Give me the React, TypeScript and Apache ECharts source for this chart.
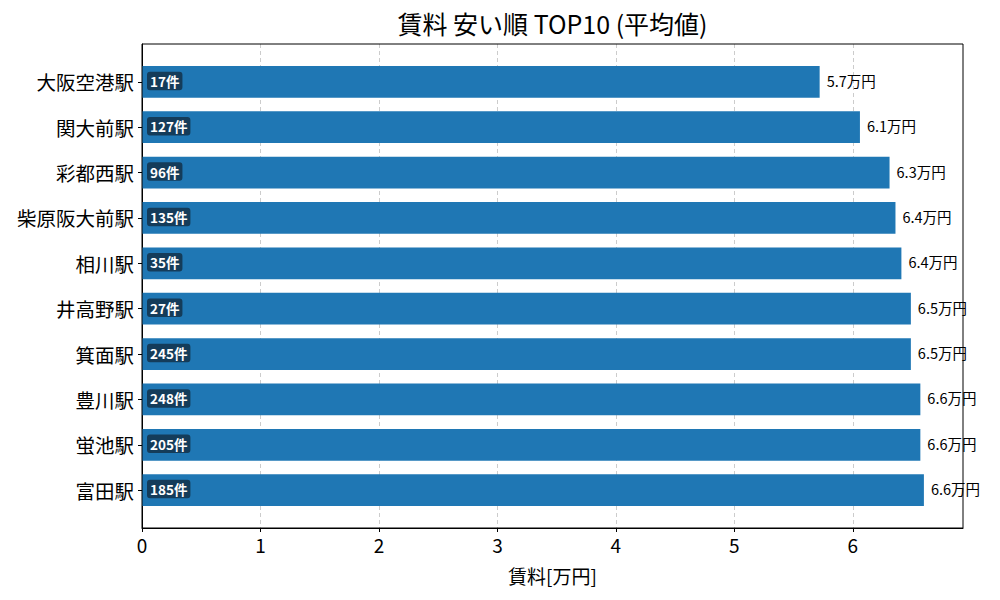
import React, { useEffect, useRef } from "react";
import * as echarts from "echarts";

const stations = ["大阪空港駅", "関大前駅", "彩都西駅", "柴原阪大前駅", "相川駅", "井高野駅", "箕面駅", "豊川駅", "蛍池駅", "富田駅"];
const rents = [5.72, 6.06, 6.31, 6.36, 6.41, 6.49, 6.49, 6.57, 6.57, 6.6];
const counts = [17, 127, 96, 135, 35, 27, 245, 248, 205, 185];
const xTicks = [0, 1, 2, 3, 4, 5, 6];
const yTicks = stations.map((_, i) => i);

const FONT = '"Noto Sans CJK JP", "Noto Sans", sans-serif';

export default function App() {
  const ref = useRef<HTMLDivElement>(null);
  useEffect(() => {
    if (!ref.current) return;
    document.body.style.margin = "0";
    const chart = echarts.init(ref.current, null, { renderer: "svg" });
    const GL = 142, GT = 44, GR = 37, GB = 72;
    const xMax = Math.max(...rents) * 1.05;
    chart.setOption({
      animation: false,
      textStyle: { fontFamily: FONT },
      grid: { left: GL, top: GT, right: GR, bottom: GB, containLabel: false },
      graphic: [
        {
          type: "rect",
          shape: { x: GL, y: GT, width: 1000 - GL - GR, height: 600 - GT - GB },
          style: { fill: "none", stroke: "#000", lineWidth: 1 },
          z: 10,
          silent: true,
        },
        {
          type: "text",
          x: (GL + 1000 - GR) / 2,
          y: 23,
          style: { text: "賃料 安い順 TOP10 (平均値)", font: `25px ${FONT}`, fill: "#000", textAlign: "center", textVerticalAlign: "middle" },
        },
      ],
      xAxis: {
        type: "value",
        min: 0,
        max: xMax,
        interval: 1,
        name: "賃料[万円]",
        nameLocation: "middle",
        nameGap: 38,
        nameTextStyle: { fontSize: 19, color: "#000", fontFamily: FONT },
        axisLine: { show: true, onZero: false, lineStyle: { color: "#000", width: 1 } },
        axisTick: { show: true, length: 4, lineStyle: { color: "#000" }, customValues: xTicks },
        axisLabel: { fontSize: 19, color: "#000", margin: 7, customValues: xTicks, fontFamily: FONT },
        splitLine: { show: true, lineStyle: { color: "#cccccc", type: [4, 3], width: 1 } },
      },
      yAxis: {
        type: "value",
        inverse: true,
        min: -0.835,
        max: 9.835,
        axisLine: { show: true, onZero: false, lineStyle: { color: "#000", width: 1 } },
        axisTick: { show: true, length: 4, lineStyle: { color: "#000" }, customValues: yTicks },
        axisLabel: {
          fontSize: 19.5,
          color: "#000",
          margin: 8,
          customValues: yTicks,
          fontFamily: FONT,
          formatter: (v: number) => stations[Math.round(v)] ?? "",
        },
        splitLine: { show: false },
      },
      series: [
        {
          type: "custom",
          encode: { x: 1, y: 0 },
          data: stations.map((_, i) => [i, rents[i]]),
          renderItem: (params: any, api: any) => {
            const idx = api.value(0);
            const val = api.value(1);
            const start = api.coord([0, idx]);
            const end = api.coord([val, idx]);
            const h = Math.abs(api.size([0, 0.7])[1]);
            return {
              type: "group",
              children: [
                {
                  type: "rect",
                  shape: { x: start[0], y: start[1] - h / 2, width: end[0] - start[0], height: h },
                  style: { fill: "#1f77b4" },
                },
                {
                  type: "text",
                  x: end[0] + 7,
                  y: end[1] - 1.5,
                  style: {
                    text: val.toFixed(1) + "万円",
                    fill: "#000",
                    font: `14.5px ${FONT}`,
                    textVerticalAlign: "middle",
                  },
                },
                {
                  type: "text",
                  x: start[0] + 5,
                  y: start[1] - 1,
                  style: {
                    text: counts[idx] + "件",
                    fill: "#fff",
                    font: `bold 13.5px ${FONT}`,
                    textVerticalAlign: "middle",
                    backgroundColor: "#143c5a",
                    padding: [3, 3, 2, 3],
                    borderRadius: 3,
                  },
                },
              ],
            };
          },
        },
      ],
    });
    return () => chart.dispose();
  }, []);
  return <div ref={ref} style={{ width: 1000, height: 600 }} />;
}
